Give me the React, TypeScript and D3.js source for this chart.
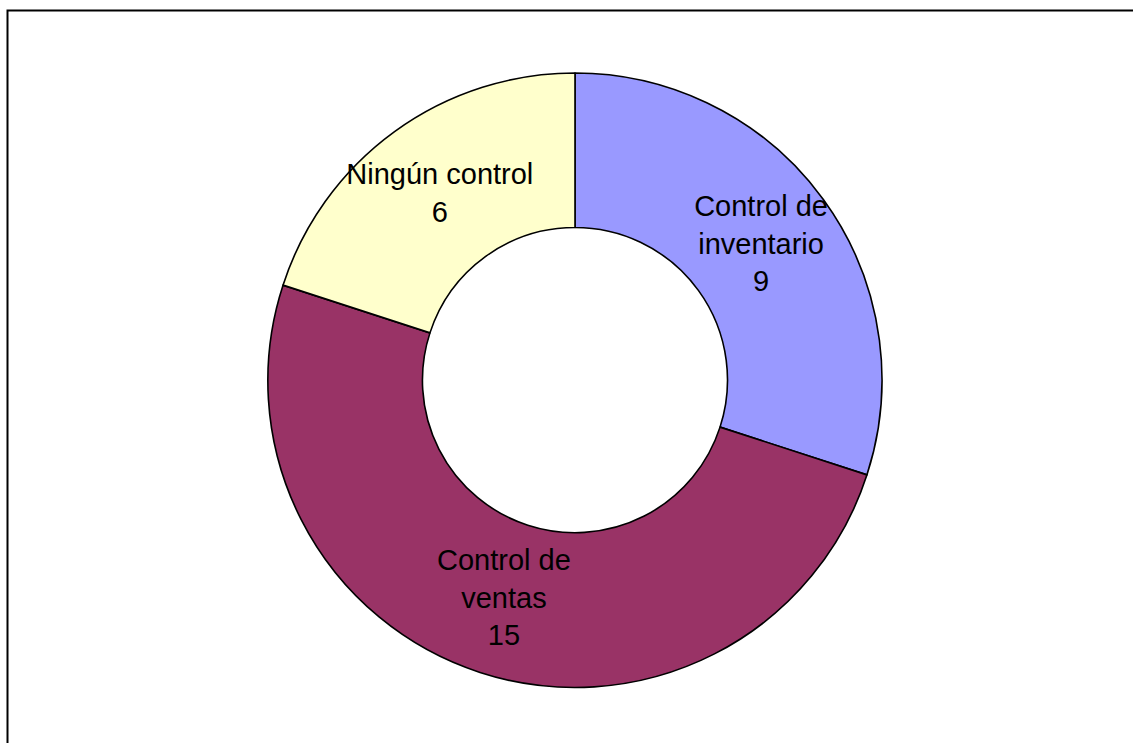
import React from "react";
import * as d3 from "d3";

const categories = ["Control de inventario", "Control de ventas", "Ningún control"];
const values = [9, 15, 6];
const labelLines = [["Control de", "inventario"], ["Control de", "ventas"], ["Ningún control"]];
const colors = ["#9999FF", "#993366", "#FFFFCC"];

export default function App() {
  const W = 1133, H = 743;
  const cx = 575, cy = 380, rOuter = 307, rInner = 152.5;
  const data = categories.map((c, i) => ({ c, v: values[i], lines: labelLines[i], color: colors[i] }));
  const pie = d3.pie<any>().value((d) => d.v).sort(null).startAngle(0).endAngle(2 * Math.PI);
  const arcs = pie(data);
  const arc = d3.arc<any>().innerRadius(rInner).outerRadius(rOuter);
  const labelArc = d3.arc<any>().innerRadius(230).outerRadius(230);
  const lh = 37.5;
  return (
    <svg width={W} height={H} style={{ position: "absolute", left: 0, top: 0, background: "#fff" }}>
      <rect x={7.5} y={10.5} width={1300} height={900} fill="#fff" stroke="#000" strokeWidth={2} />
      <g transform={`translate(${cx},${cy})`}>
        {arcs.map((a, i) => (
          <path key={i} d={arc(a) as string} fill={a.data.color} stroke="#000" strokeWidth={1.6} strokeLinejoin="round" />
        ))}
        {arcs.map((a, i) => {
          const [lx, ly] = labelArc.centroid(a);
          const lines = [...a.data.lines, String(a.data.v)];
          const n = lines.length;
          return (
            <text key={"t" + i} x={lx} textAnchor="middle" fontFamily="'Liberation Sans', Arial, sans-serif" fontSize={29} fill="#000">
              {lines.map((l, j) => (
                <tspan key={j} x={lx} y={ly + (j - (n - 1) / 2) * lh + 9}>{l}</tspan>
              ))}
            </text>
          );
        })}
      </g>
    </svg>
  );
}
